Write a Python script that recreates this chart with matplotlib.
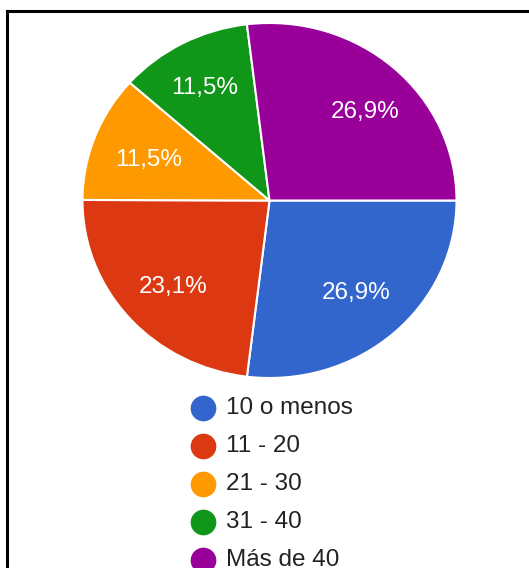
import matplotlib.pyplot as plt
from matplotlib.lines import Line2D

plt.rcParams['font.family'] = ['Liberation Sans', 'DejaVu Sans']

# answers to "how many" question, share in percent
categories = ['10 o menos', '11 - 20', '21 - 30', '31 - 40', 'Más de 40']
shares = [26.9, 23.1, 11.5, 11.5, 26.9]
colors = ['#3366cc', '#dc3912', '#ff9900', '#109618', '#990099']

W, H = 529, 568
fig = plt.figure(figsize=(W / 100, H / 100), dpi=100)

# frame lines (left and top only)
frame = fig.add_axes([0, 0, 1, 1])
frame.set_xlim(0, W)
frame.set_ylim(H, 0)
frame.axis('off')
frame.add_line(Line2D([7, 7], [11, H], color='black', lw=2.2))
frame.add_line(Line2D([7, W], [11, 11], color='black', lw=2.2))

# pie, drawn a bit wider than tall
left, right, top, bottom = 82.5, 456.5, 23, 378
ax = fig.add_axes([left / W, 1 - bottom / H, (right - left) / W, (bottom - top) / H])


def fmt(p):
    return ('%.1f%%' % p).replace('.', ',')


wedges, texts, autotexts = ax.pie(
    shares, colors=colors, startangle=0, counterclock=False,
    autopct=fmt, pctdistance=0.70,
    wedgeprops=dict(edgecolor='white', linewidth=1.5),
    textprops=dict(color='white', fontsize=17.5))
ax.set_aspect('auto')
ax.set_xlim(-1, 1)
ax.set_ylim(-1, 1)

# label anchors inside each slice
label_pos = [(0.463, -0.521), (-0.516, -0.487), (-0.644, 0.228),
             (-0.345, 0.634), (0.511, 0.499)]
for t, pos in zip(autotexts, label_pos):
    t.set_position(pos)

# legend rows below the pie
for i, (name, c) in enumerate(zip(categories, colors)):
    y = 408 + 38 * i
    frame.plot(202.5, y, 'o', ms=18.5, color=c, mec='none')
    frame.text(226, y, name, fontsize=17.5, color='#222222', va='center', ha='left')

plt.savefig('out.png', dpi=100)
